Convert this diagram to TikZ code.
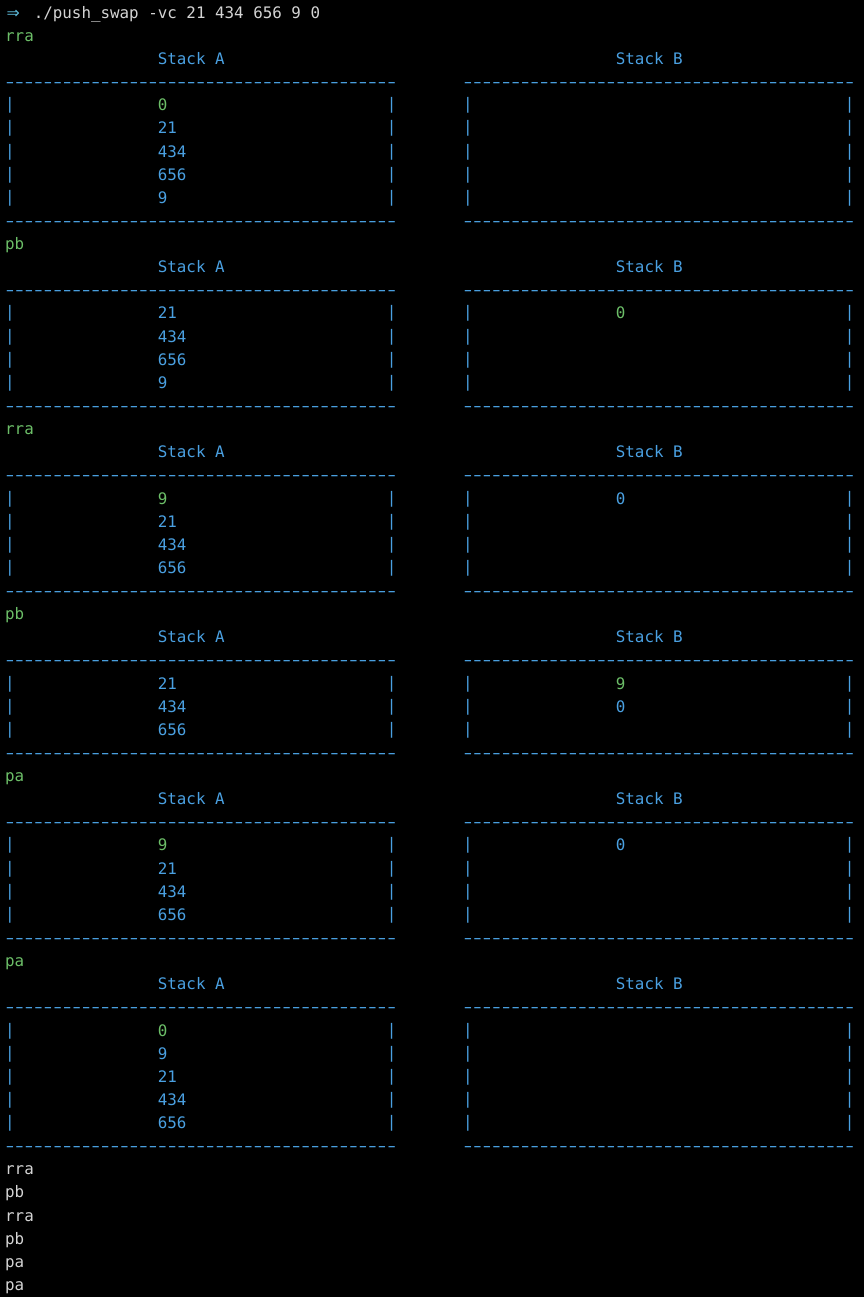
\documentclass[tikz,border=0pt]{standalone}
\usepackage{fontspec}
\setmonofont{DejaVu Sans Mono}
\newfontfamily\arrfont{DejaVu Sans}
\newcommand\term{\ttfamily\fontsize{15.85}{16}\selectfont}
\definecolor{cb}{RGB}{74,160,225}
\definecolor{cg}{RGB}{108,190,104}
\definecolor{cw}{RGB}{212,212,212}
\definecolor{ca}{RGB}{90,180,210}
\def\dd{\makebox[9.542pt]{\scalebox{1.55}[1]{-}}}
\newcommand\dten{\dd\dd\dd\dd\dd\dd\dd\dd\dd\dd}
\newcommand\dashline{\dten\dten\dten\dten\dd}
\newcommand\vb{\raisebox{1pt}{|}}
\newcommand\Xc[1]{5.2+(#1)*9.542}
\newcommand\Yl[1]{-18.3-(#1)*23.13}
\newcommand\T[5]{\node[txt,text=#3] (#4) at ({\Xc{#1}},{\Yl{#2}}) {#5};}
\newcommand\hdr[3]{%
  \T{0}{#1}{cg}{#3op}{#2}
  \T{16}{#1+1}{cb}{#3ha}{Stack A}
  \T{64}{#1+1}{cb}{#3hb}{Stack B}
  \T{0}{#1+2}{cb}{#3da}{\dashline}
  \T{48}{#1+2}{cb}{#3db}{\dashline}}
\newcommand\foot[2]{%
  \T{0}{#1}{cb}{#2fa}{\dashline}
  \T{48}{#1}{cb}{#2fb}{\dashline}}
\newcommand\row[6]{%
  \T{0}{#1}{cb}{#6al}{\vb}
  \T{16}{#1}{#3}{#6an}{#2}
  \T{40}{#1}{cb}{#6ar}{\vb}
  \T{48}{#1}{cb}{#6bl}{\vb}
  \T{64}{#1}{#5}{#6bn}{#4}
  \T{88}{#1}{cb}{#6br}{\vb}}
\begin{document}
\begin{tikzpicture}[x=1pt,y=1pt,
  txt/.style={anchor=base west,inner sep=0pt,outer sep=0pt,font=\term}]
\fill[black] (0,0) rectangle (864,-1297);
\useasboundingbox (0,0) rectangle (864,-1297);
% command line
\node[txt,text=ca,font=\arrfont\fontsize{15.85}{16}\selectfont] (arrow) at (6.5,{\Yl{0}}) {⇒};
\T{3}{0}{cw}{cmd}{./push\_swap -vc 21 434 656 9 0}
% block 1
\hdr{1}{rra}{a}
\row{4}{0}{cg}{}{cb}{ar1}
\row{5}{21}{cb}{}{cb}{ar2}
\row{6}{434}{cb}{}{cb}{ar3}
\row{7}{656}{cb}{}{cb}{ar4}
\row{8}{9}{cb}{}{cb}{ar5}
\foot{9}{a}
% block 2
\hdr{10}{pb}{b}
\row{13}{21}{cb}{0}{cg}{br1}
\row{14}{434}{cb}{}{cb}{br2}
\row{15}{656}{cb}{}{cb}{br3}
\row{16}{9}{cb}{}{cb}{br4}
\foot{17}{b}
% block 3
\hdr{18}{rra}{c}
\row{21}{9}{cg}{0}{cb}{cr1}
\row{22}{21}{cb}{}{cb}{cr2}
\row{23}{434}{cb}{}{cb}{cr3}
\row{24}{656}{cb}{}{cb}{cr4}
\foot{25}{c}
% block 4
\hdr{26}{pb}{d}
\row{29}{21}{cb}{9}{cg}{dr1}
\row{30}{434}{cb}{0}{cb}{dr2}
\row{31}{656}{cb}{}{cb}{dr3}
\foot{32}{d}
% block 5
\hdr{33}{pa}{e}
\row{36}{9}{cg}{0}{cb}{er1}
\row{37}{21}{cb}{}{cb}{er2}
\row{38}{434}{cb}{}{cb}{er3}
\row{39}{656}{cb}{}{cb}{er4}
\foot{40}{e}
% block 6
\hdr{41}{pa}{f}
\row{44}{0}{cg}{}{cb}{fr1}
\row{45}{9}{cb}{}{cb}{fr2}
\row{46}{21}{cb}{}{cb}{fr3}
\row{47}{434}{cb}{}{cb}{fr4}
\row{48}{656}{cb}{}{cb}{fr5}
\foot{49}{f}
% final output
\T{0}{50}{cw}{o1}{rra}
\T{0}{51}{cw}{o2}{pb}
\T{0}{52}{cw}{o3}{rra}
\T{0}{53}{cw}{o4}{pb}
\T{0}{54}{cw}{o5}{pa}
\T{0}{55}{cw}{o6}{pa}
\end{tikzpicture}
\end{document}
